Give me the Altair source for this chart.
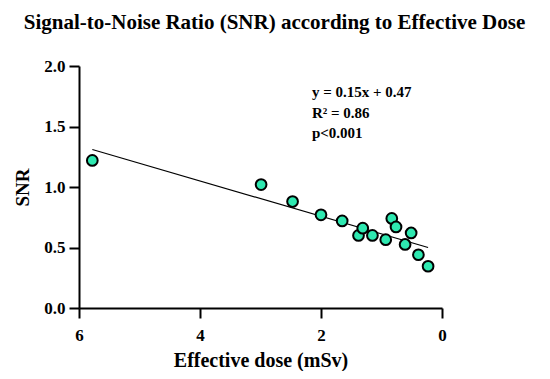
import altair as alt
import pandas as pd

# Data
dose = [5.78, 2.99, 2.47, 2.00, 1.65, 1.38, 1.31, 1.15, 0.93, 0.83, 0.76, 0.61, 0.51, 0.39, 0.23]
snr = [1.22, 1.02, 0.88, 0.77, 0.72, 0.60, 0.66, 0.60, 0.565, 0.74, 0.67, 0.525, 0.62, 0.44, 0.345]

line_x = [5.78, 0.23]
line_y = [1.31, 0.50]

ann_text = ["y = 0.15x + 0.47", "R² = 0.86", "p<0.001"]
ann_x = [2.15, 2.15, 2.15]
ann_y = [1.745, 1.57, 1.405]

x_ticks = [0, 2, 4, 6]
y_ticks = [0.0, 0.5, 1.0, 1.5, 2.0]

pts = pd.DataFrame({"dose": dose, "snr": snr})
ln = pd.DataFrame({"dose": line_x, "snr": line_y})
ann = pd.DataFrame({"dose": ann_x, "snr": ann_y, "t": ann_text})

FONT = "Liberation Serif"

xscale = alt.Scale(domain=[6, 0], nice=False, zero=False)
yscale = alt.Scale(domain=[0, 2], nice=False)

xaxis = alt.Axis(
    values=x_ticks, format="d", title="Effective dose (mSv)", grid=False,
    domainColor="black", domainWidth=2, tickColor="black", tickWidth=2, tickSize=10,
    labelFont=FONT, labelFontSize=17, labelFontWeight="bold", labelColor="black",
    labelPadding=9, labelFlush=False,
    titleFont=FONT, titleFontSize=20, titleFontWeight="bold", titleColor="black",
    titleY=58, titleBaseline="alphabetic",
)
yaxis = alt.Axis(
    values=y_ticks, format=".1f", title="SNR", grid=False,
    domainColor="black", domainWidth=2, tickColor="black", tickWidth=2, tickSize=10,
    labelFont=FONT, labelFontSize=17, labelFontWeight="bold", labelColor="black",
    labelPadding=4, labelFlush=False,
    titleFont=FONT, titleFontSize=19, titleFontWeight="bold", titleColor="black",
    titleX=-51, titleY=121, titleBaseline="alphabetic", titleAlign="center", titleAngle=-90,
)

line = alt.Chart(ln).mark_line(color="black", strokeWidth=1.2).encode(
    x=alt.X("dose:Q", scale=xscale, axis=xaxis),
    y=alt.Y("snr:Q", scale=yscale, axis=yaxis),
)

points = alt.Chart(pts).mark_point(
    shape="circle", filled=True, fill="#2EE8B0", stroke="black", strokeWidth=2,
    size=115, opacity=1,
).encode(
    x=alt.X("dose:Q", scale=xscale),
    y=alt.Y("snr:Q", scale=yscale),
)

text = alt.Chart(ann).mark_text(
    align="left", baseline="alphabetic", font=FONT, fontSize=15,
    fontWeight="bold", color="black",
).encode(
    x=alt.X("dose:Q", scale=xscale),
    y=alt.Y("snr:Q", scale=yscale),
    text="t:N",
)

chart = alt.layer(line, points, text).properties(
    width=363,
    height=242,
    autosize=alt.AutoSizeParams(type="none"),
    padding={"left": 71, "top": 58, "right": 100, "bottom": 63},
    title=alt.Title(
        "Signal-to-Noise Ratio (SNR) according to Effective Dose",
        font=FONT, fontSize=21, fontWeight="bold", color="black",
        anchor="middle", frame="group", dx=14, offset=7, baseline="alphabetic",
    ),
).configure(background="white", view=alt.ViewConfig(stroke=None))

chart.save("out.html", embed_options={"renderer": "svg", "actions": False})
